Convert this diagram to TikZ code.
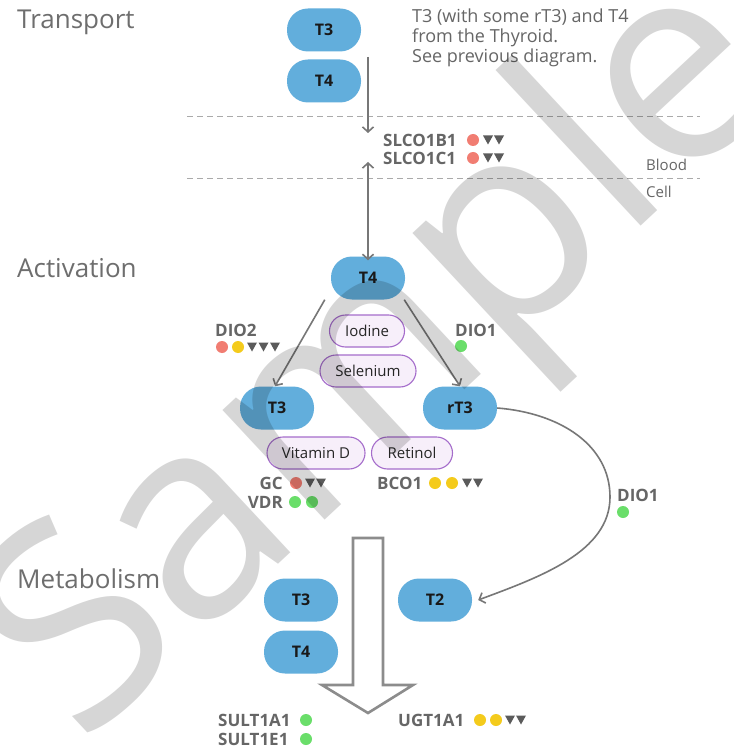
\documentclass[tikz,border=0pt]{standalone}
\usepackage{fontspec}
\setmainfont{Open Sans}
\usetikzlibrary{arrows.meta}
\definecolor{nodeblue}{HTML}{62AEDC}
\definecolor{pillfill}{HTML}{F7EFFA}
\definecolor{pilldraw}{HTML}{A56DCB}
\definecolor{labgray}{HTML}{666666}
\definecolor{titlegray}{HTML}{6E6E6E}
\definecolor{arrgray}{HTML}{777777}
\definecolor{dashgray}{HTML}{AAAAAA}
\definecolor{bigarrow}{HTML}{8C8C8C}
\definecolor{cred}{HTML}{F17D72}
\definecolor{cyel}{HTML}{F4CB1C}
\definecolor{cgreen}{HTML}{6ADE6A}
\definecolor{ctri}{HTML}{5B5B5B}
\newcommand{\fsz}[1]{\fontsize{#1}{#1}\selectfont}
\newcommand{\mkdot}[3]{\fill[#1] (#2,#3) circle (6pt);}
\newcommand{\mktri}[2]{\fill[ctri] (#1,#2) ++(-5,-4.5) -- ++(10,0) -- ++(-5,9) -- cycle;}
\begin{document}
\begin{tikzpicture}[x=1pt,y=-1pt,
  hormone/.style={fill=nodeblue, rounded corners=21pt, minimum width=74pt, minimum height=43pt, inner sep=0pt, font=\fsz{16}\bfseries, text=black!90},
  nutrient/.style={draw=pilldraw, line width=1.1pt, fill=pillfill, rounded corners=16pt, minimum height=32pt, inner sep=0pt, font=\fsz{15}, text=black!85},
  gene/.style={font=\fsz{17}\bfseries, text=labgray, inner sep=0pt},
  sectitle/.style={font=\fsz{26}, text=titlegray, inner sep=0pt, anchor=base west},
  note/.style={font=\fsz{18}, text=labgray, inner sep=0pt, anchor=base west},
  side/.style={font=\fsz{15}, text=labgray, inner sep=0pt, anchor=base west},
  tip/.tip={Straight Barb[length=5pt,width=11pt]},
  flow/.style={draw=arrgray, line width=1.6pt, -tip},
  dashsep/.style={draw=dashgray, line width=1pt, dash pattern=on 6pt off 4pt}]
\useasboundingbox (0,0) rectangle (733,751);
\clip (0,0) rectangle (733,751);
\fill[white] (0,0) rectangle (733,751);

% section titles
\node[sectitle] (ttrans) at (17,29) {Transport};
\node[sectitle] (tact) at (17,277) {Activation};
\node[sectitle] (tmet) at (17,588) {Metabolism};

% note
\node[note] (n1) at (412,23) {T3 (with some rT3) and T4};
\node[note] (n2) at (412,43) {from the Thyroid.};
\node[note] (n3) at (412,63) {See previous diagram.};
\node[side] (blood) at (646,171) {Blood};
\node[side] (cell) at (646,198) {Cell};

% dashed separators
\coordinate (d1a) at (187,117); \coordinate (d1b) at (700,117);
\coordinate (d2a) at (187,179); \coordinate (d2b) at (700,179);
\draw[dashsep] (d1a) -- (d1b);
\draw[dashsep] (d2a) -- (d2b);

% transport
\node[hormone] (T3t) at (324,30) {T3};
\node[hormone] (T4t) at (324,81) {T4};
\coordinate (tra) at (368,57);
\coordinate (trb) at (368,133);
\draw[flow] (tra) -- (trb);
\node[gene, anchor=west] (slb) at (383,140) {SLCO1B1};
\node[gene, anchor=west] (slc) at (383,158) {SLCO1C1};
\mkdot{cred}{473}{140}\mktri{488}{140}\mktri{499}{140}
\mkdot{cred}{473}{158}\mktri{488}{158}\mktri{499}{158}

% activation
\node[hormone] (T4a) at (368,278) {T4};
\coordinate (ex) at (368,162);
\draw[flow, tip-tip] (ex) -- ([yshift=-4pt]T4a.north);
\node[hormone] (T3a) at (277,408) {T3};
\node[hormone] (rT3a) at (460,408) {rT3};
\draw[flow] ([xshift=-6pt]T4a.south west) -- ([xshift=-2pt]T3a.north);
\draw[flow] ([xshift=-1pt]T4a.south east) -- ([xshift=0pt]rT3a.north);
\node[nutrient, minimum width=75pt] (iod) at (367,331) {Iodine};
\node[nutrient, minimum width=96pt] (sel) at (368,371) {Selenium};
\node[nutrient, minimum width=98pt] (vitd) at (316,453) {Vitamin D};
\node[nutrient, minimum width=81pt] (ret) at (412,453) {Retinol};

\node[gene, anchor=west] (dio2) at (215,330) {DIO2};
\mkdot{cred}{222}{347}\mkdot{cyel}{238}{347}\mktri{252}{347}\mktri{263.5}{347}\mktri{275}{347}
\node[gene, anchor=west] (dio1a) at (455,330) {DIO1};
\mkdot{cgreen}{461}{346}

\node[gene, anchor=east] (gc) at (283,483) {GC};
\mkdot{cred}{296}{483}\mktri{310}{483}\mktri{321}{483}
\node[gene, anchor=east] (vdr) at (283,502) {VDR};
\mkdot{cgreen}{295}{502}\mkdot{cgreen}{312}{502}
\node[gene, anchor=west] (bco) at (377,483) {BCO1};
\mkdot{cyel}{435}{483}\mkdot{cyel}{452}{483}\mktri{467}{483}\mktri{478}{483}

% metabolism
\coordinate (bend) at (610,497);
\node[hormone] (T2m) at (435,600) {T2};
\draw[flow] ([yshift=0pt]rT3a.east) .. controls (560,413) and (610,445) .. (bend)
  .. controls (610,552) and (540,577) .. ([xshift=6pt]T2m.east);
\node[gene, anchor=west] (dio1b) at (617,495) {DIO1};
\mkdot{cgreen}{623}{512}

\draw[draw=bigarrow, line width=2.6pt, fill=white, line join=miter]
  (353,538) -- (383,538) -- (383,685) -- (413,685) -- (368,713) -- (322,685) -- (353,685) -- cycle;
\node[hormone] (T3m) at (301,600) {T3};
\node[hormone] (T4m) at (301,652) {T4};

\node[gene, anchor=west] (sa1) at (218,720) {SULT1A1};
\mkdot{cgreen}{306}{720}
\node[gene, anchor=west] (se1) at (218,739) {SULT1E1};
\mkdot{cgreen}{306}{739}
\node[gene, anchor=west] (ugt) at (398,720) {UGT1A1};
\mkdot{cyel}{480}{720}\mkdot{cyel}{496}{720}\mktri{510}{720}\mktri{521}{720}

% watermark
\node[rotate=43, anchor=base west, font=\fsz{280}, text=black, text opacity=0.16, inner sep=0pt] (wm) at (81,748) {Sample};
\end{tikzpicture}
\end{document}
